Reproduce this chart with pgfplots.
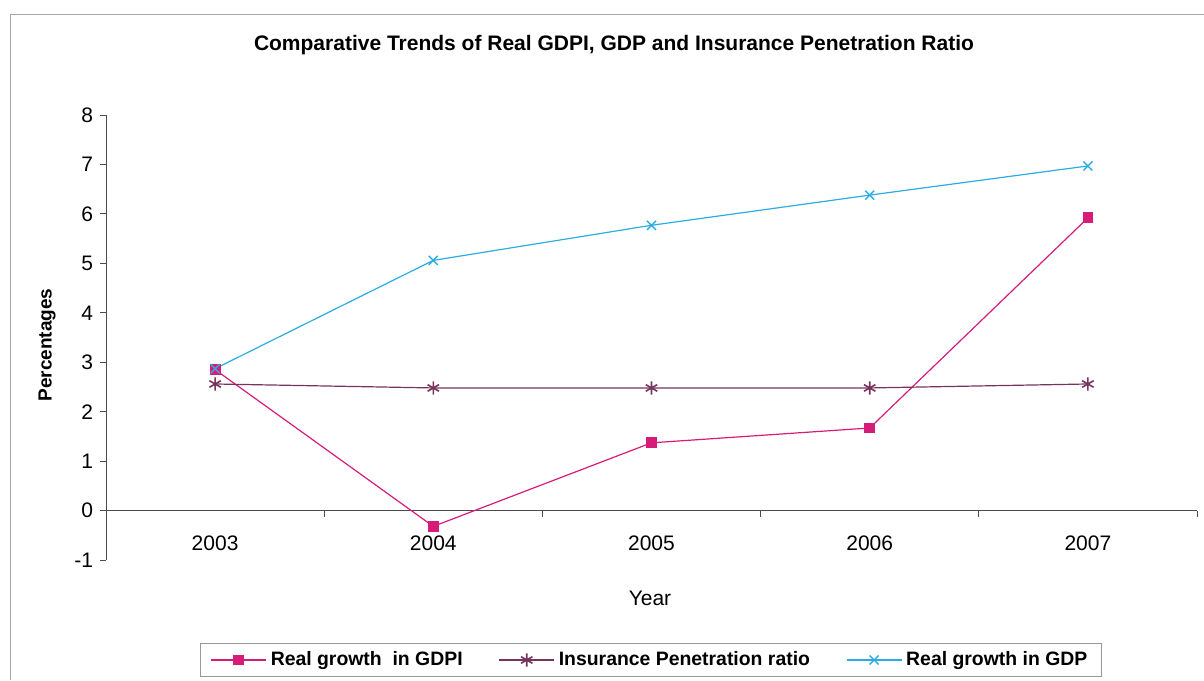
\documentclass[border=0pt]{standalone}
\usepackage{fontspec}
\setmainfont{Liberation Sans}
\usepackage{pgfplots}
\pgfplotsset{compat=1.18}

\definecolor{gdpi}{RGB}{214,28,120}
\definecolor{ipr}{RGB}{118,52,92}
\definecolor{gdp}{RGB}{45,172,228}

\begin{document}
\begin{tikzpicture}[x=1pt,y=1pt]
\path[use as bounding box] (0,0) rectangle (602,340);
\draw[black!35, line width=0.4pt] (5,0) -- (5,333) -- (602,333);
\node[font=\fontsize{10.5}{12}\selectfont\bfseries] at (307,317.5)
  {Comparative Trends of Real GDPI, GDP and Insurance Penetration Ratio};
\node[font=\fontsize{10.5}{12}\selectfont] at (325,41) {Year};
\node[font=\fontsize{9.5}{11}\selectfont\bfseries, rotate=90] at (23.5,167.5) {Percentages};
\begin{axis}[
  at={(53pt,60pt)}, anchor=south west,
  scale only axis, width=545.5pt, height=222.5pt,
  xmin=-0.5, xmax=4.5, ymin=-1, ymax=8,
  axis x line=middle, axis y line=left,
  x axis line style={-}, y axis line style={-},
  axis line style={black!70, line width=0.5pt},
  xtick={0,...,4}, xticklabels={2003,2004,2005,2006,2007},
  major x tick style={draw=none},
  minor xtick={-0.5,0.5,...,4.5},
  ytick={-1,0,...,8},
  tick align=outside,
  major tick length=3pt, minor tick length=3pt,
  tick style={black!70, line width=0.5pt},
  ticklabel style={font=\fontsize{10.5}{12}\selectfont},
  xticklabel style={yshift=-6pt},
  /pgf/number format/assume math mode=true,
  legend columns=3,
  legend style={at={(0.4995,-0.2247)}, anchor=center, draw=black!40,
    font=\fontsize{9.7}{11}\selectfont\bfseries,
    inner xsep=5pt, inner ysep=2pt,
    /tikz/every even column/.append style={column sep=16pt}},
  legend image code/.code={\draw[mark repeat=2,mark phase=2]
    plot coordinates {(0pt,0pt) (13.75pt,0pt) (27.5pt,0pt)};},
]
\addplot[color=gdpi, line width=0.6pt, mark=square*, mark size=2.4pt, mark options={solid}]
  coordinates {(0,2.85) (1,-0.32) (2,1.37) (3,1.67) (4,5.92)};
\addlegendentry{Real growth\ \ in GDPI}
\addplot[color=ipr, line width=0.6pt, mark=asterisk, mark size=3.3pt, mark options={solid, line width=0.8pt}]
  coordinates {(0,2.56) (1,2.48) (2,2.48) (3,2.48) (4,2.56)};
\addlegendentry{Insurance Penetration ratio}
\addplot[color=gdp, line width=0.6pt, mark=x, mark size=3.2pt, mark options={solid, line width=0.7pt}]
  coordinates {(0,2.87) (1,5.06) (2,5.77) (3,6.38) (4,6.97)};
\addlegendentry{Real growth in GDP}
\end{axis}
\end{tikzpicture}
\end{document}
